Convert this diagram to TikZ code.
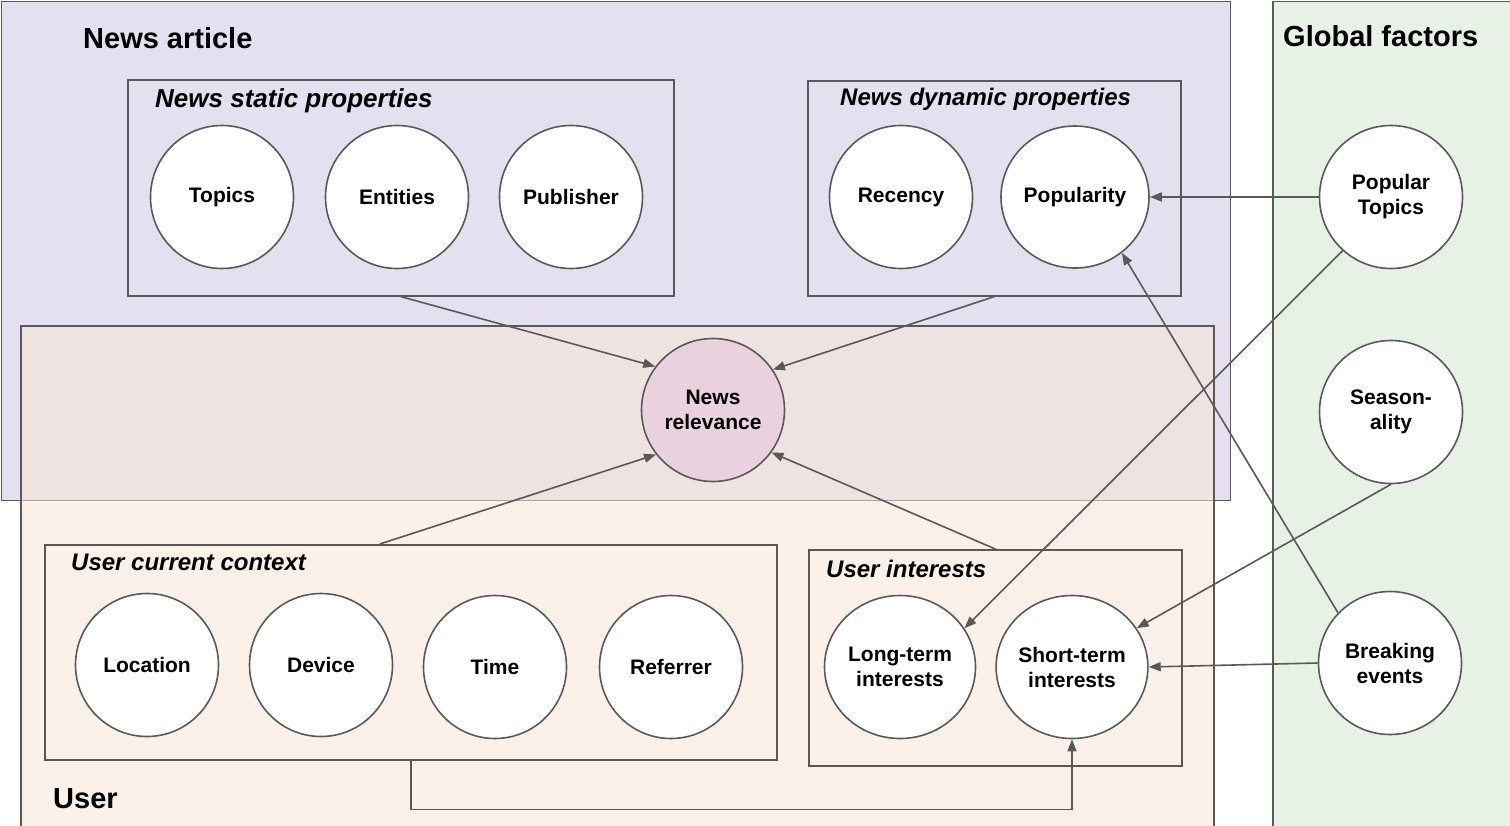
\documentclass[tikz,border=0pt]{standalone}
\usepackage{fontspec}
\setmainfont{Liberation Sans}
\usetikzlibrary{arrows.meta,shapes.geometric,calc}

\definecolor{linegray}{HTML}{595959}
\definecolor{articlefill}{HTML}{E4E0EF}
\definecolor{userfill}{HTML}{F9E6D6}
\definecolor{globalfill}{HTML}{E7F1E5}
\definecolor{relfill}{HTML}{E9D1DD}

\begin{document}
\begin{tikzpicture}[x=1pt,y=-1pt,
  group/.style={draw=linegray, line width=1.6pt, rectangle, inner sep=0pt, anchor=north west},
  factor/.style={draw=linegray, line width=1.6pt, fill=white, ellipse, inner sep=0pt,
    minimum width=143pt, minimum height=143pt, align=center,
    font=\bfseries\fontsize{21}{25}\selectfont},
  title/.style={anchor=base west, inner sep=0pt, font=\bfseries\fontsize{29}{35}\selectfont},
  subtitle/.style={anchor=base west, inner sep=0pt, font=\bfseries\itshape\fontsize{24}{29}\selectfont},
  link/.style={draw=linegray, line width=1.6pt, -{Triangle[length=12pt,width=9pt]}},
]
\clip (0,0) rectangle (1510,825);

% large regions
\node[group, fill=articlefill, minimum width=1229pt, minimum height=499pt] (article) at (0.8,0.8) {};
\node[group, fill=userfill, fill opacity=0.55, minimum width=1193pt, minimum height=520pt] (user) at (20,325) {};
\node[group, fill=globalfill, minimum width=260pt, minimum height=840pt] (global) at (1272,0.8) {};

\node[title] (tarticle) at (83,48) {News article};
\node[title] (tuser) at (53,808) {User};
\node[title] (tglobal) at (1283,46) {Global factors};

% property groups
\node[group, minimum width=546pt, minimum height=216pt] (static) at (127,79) {};
\node[group, minimum width=373pt, minimum height=215pt] (dynamic) at (807,80) {};
\node[group, minimum width=732pt, minimum height=215pt] (context) at (44,544) {};
\node[group, minimum width=373pt, minimum height=216pt] (interests) at (808,549) {};

\node[subtitle, font=\bfseries\itshape\fontsize{26}{31}\selectfont] (tstatic) at (155,107) {News static properties};
\node[subtitle] (tdynamic) at (840,105) {News dynamic properties};
\node[subtitle] (tcontext) at (71,570) {User current context};
\node[subtitle] (tinterests) at (826,577) {User interests};

% factors
\node[factor] (topics) at (222,197) {Topics};
\node[factor] (entities) at (397,197) {Entities};
\node[factor] (publisher) at (571,197) {Publisher};
\node[factor] (recency) at (901,197) {Recency};
\node[factor, minimum width=148pt, minimum height=142pt] (popularity) at (1075,197) {Popularity};

\node[factor] (poptopics) at (1391,197) {Popular\\Topics};
\node[factor] (season) at (1391,412) {Season-\\ality};
\node[factor] (breaking) at (1390,663) {Breaking\\events};

\node[factor, fill=relfill] (relevance) at (713,410) {News\\relevance};

\node[factor] (location) at (147,665) {Location};
\node[factor] (device) at (321,665) {Device};
\node[factor] (time) at (495,667) {Time};
\node[factor] (referrer) at (671,667) {Referrer};
\node[factor, minimum width=151pt] (longterm) at (900,667) {Long-term\\interests};
\node[factor, minimum width=151pt] (shortterm) at (1072,667) {Short-term\\interests};

% influences
\draw[link] (static.south) -- (relevance.143);
\draw[link] (dynamic.south) -- (relevance.34);
\draw[link] ($(context.north)+(-31,0)$) -- (relevance.218);
\draw[link] (interests.north) -- (relevance.324);
\draw[link] (poptopics.west) -- (popularity.east);
\draw[link] (poptopics.228) -- (longterm.31);
\draw[link] (breaking.136) -- (popularity.310);
\draw[link] (season.south) -- (shortterm.31);
\draw[link] (breaking.west) -- (shortterm.east);
\draw[link] (context.south) -- ++(0,49) -| (shortterm.south);
\end{tikzpicture}
\end{document}
